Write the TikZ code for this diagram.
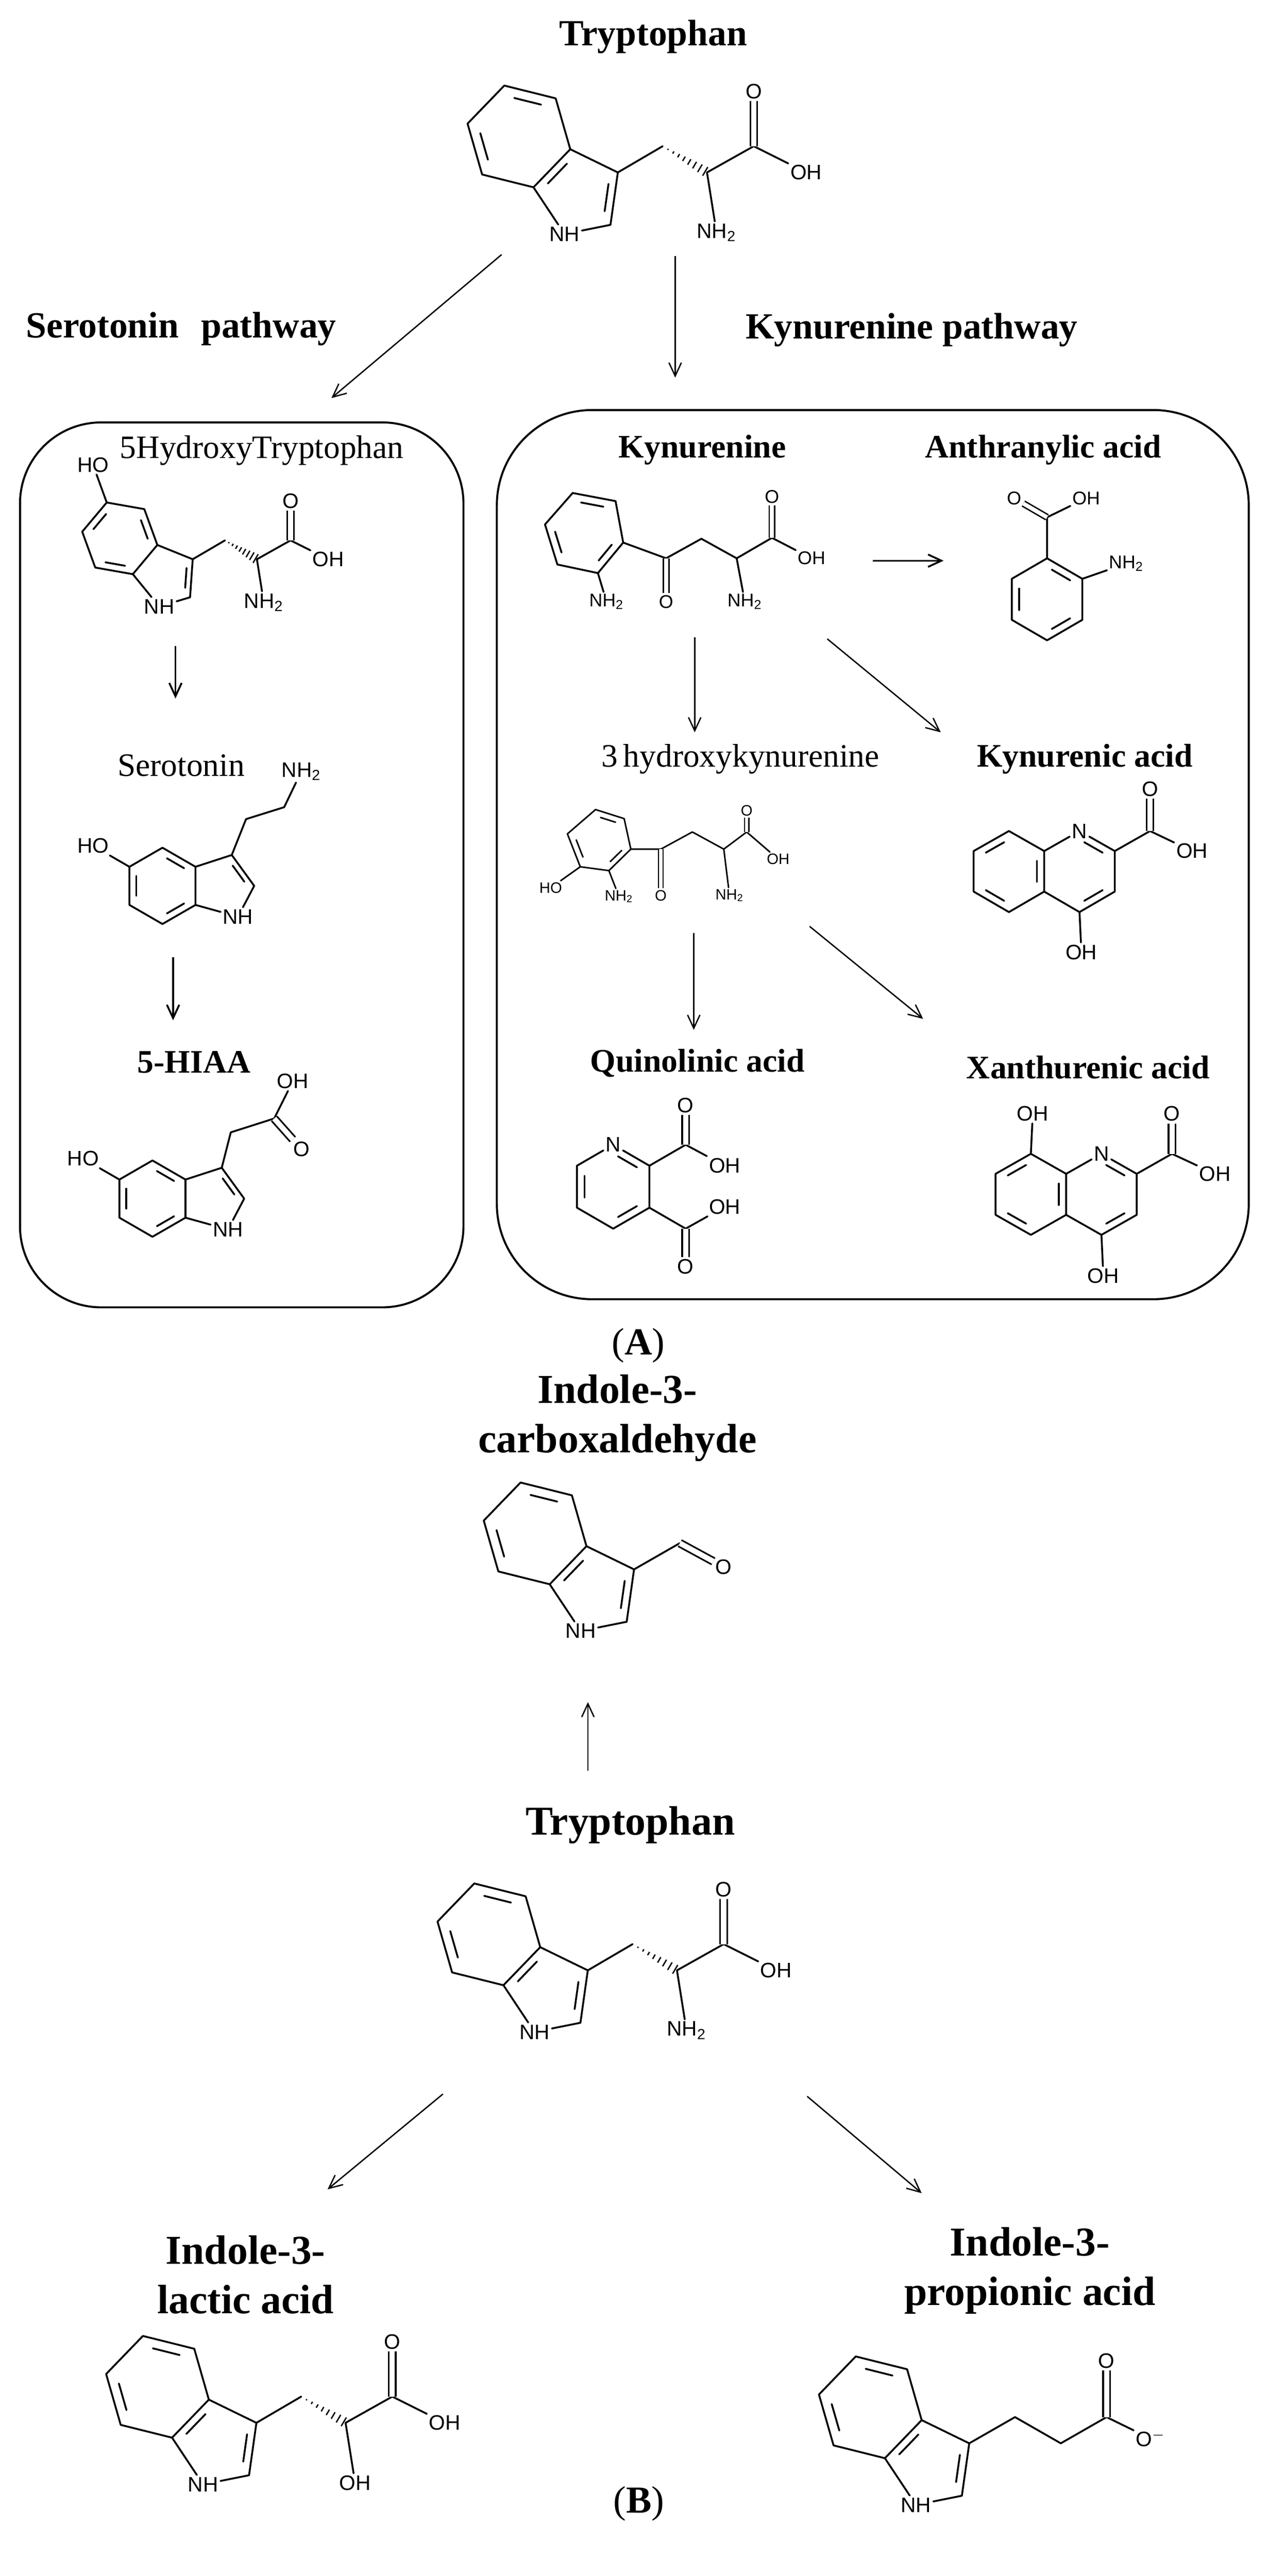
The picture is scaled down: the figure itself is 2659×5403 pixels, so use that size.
\documentclass[tikz,border=0pt]{standalone}
\usepackage{fontspec}
\setmainfont{Liberation Serif}
\setsansfont{Liberation Sans}
\usetikzlibrary{calc,arrows.meta}
\tikzset{
 bond/.style={line width=1.1pt,line cap=round,line join=round},
 sbond/.style={line width=0.9pt,line cap=round,line join=round},
 dbond/.style={line width=1pt,double,double distance=1.1mm},
 sdbond/.style={line width=0.85pt,double,double distance=0.85mm},
 atom/.style={font=\sffamily\fontsize{12.5}{13}\selectfont,inner sep=0.4mm},
 satom/.style={font=\sffamily\fontsize{11}{12}\selectfont,inner sep=0.35mm},
 tatom/.style={font=\sffamily\fontsize{9}{10}\selectfont,inner sep=0.3mm},
 ttl/.style={font=\bfseries\fontsize{22}{24}\selectfont},
 bxt/.style={font=\bfseries\fontsize{19.6}{22}\selectfont},
 rgt/.style={font=\fontsize{19.5}{22}\selectfont},
 bttl/.style={font=\bfseries\fontsize{24.5}{29.5}\selectfont,align=center},
 arr/.style={line width=0.8pt,-{Straight Barb[length=2.8mm,width=2.6mm]}},
 boxst/.style={line width=1.2pt},
}
\newcommand\dbl[3]{\path ($(#1)!0.17!(#2)$) coordinate (dpA) ($(#2)!0.17!(#1)$) coordinate (dpB);
 \draw[bond] ($(dpA)!0.21!(#3)$) -- ($(dpB)!0.21!(#3)$);}
\newcommand\sdbl[3]{\path ($(#1)!0.17!(#2)$) coordinate (dpA) ($(#2)!0.17!(#1)$) coordinate (dpB);
 \draw[sbond] ($(dpA)!0.21!(#3)$) -- ($(dpB)!0.21!(#3)$);}
\newcommand\hashb[2]{\foreach \t in {0.12,0.24,0.36,0.48,0.6,0.72,0.84,0.96}{%
 \pgfmathsetmacro\w{\t*1.1}%
 \path ($(#1)!\t!(#2)$) coordinate (hp);
 \draw[line width=0.8pt] ($(hp)!\w mm!90:(#2)$) -- ($(hp)!\w mm!-90:(#2)$);}}
\newcommand\Indole[5]{%
\path (#2) coordinate (#1a3);
\path (#1a3) ++({-(210+#3)}:#4) coordinate (#1cen);
\path (#1cen) ++({-(90+#3)}:#4) coordinate (#1c4);
\path (#1cen) ++({-(150+#3)}:#4) coordinate (#1c5);
\path (#1cen) ++({-(210+#3)}:#4) coordinate (#1c6);
\path (#1cen) ++({-(270+#3)}:#4) coordinate (#1c7);
\path (#1cen) ++({-(330+#3)}:#4) coordinate (#1a7);
\path (#1a3) ++({-(18+#3)}:#4) coordinate (#1c3);
\path (#1c3) ++({-(-54+#3)}:#4) coordinate (#1c2);
\path (#1c2) ++({-(-126+#3)}:#4) coordinate (#1n);
\path ($(#1c2)!0.5!(#1n)$) coordinate (#1m);
\path ($(#1a3)!0.553!(#1m)$) coordinate (#1pc);
\node[atom,xshift=1.3mm] (#1N) at (#1n) {NH};
\draw[bond] (#1a3)--(#1c4)--(#1c5)--(#1c6)--(#1c7)--(#1a7)--cycle;
\draw[bond] (#1a3)--(#1c3)--(#1c2)--(#1N);
\draw[bond] (#1N)--(#1a7);
\dbl{#1c3}{#1c2}{#1pc}
\ifnum#5=1 \dbl{#1c4}{#1c5}{#1cen}\dbl{#1c6}{#1c7}{#1cen}\dbl{#1a3}{#1a7}{#1pc}%
\else \dbl{#1a3}{#1c4}{#1cen}\dbl{#1c5}{#1c6}{#1cen}\dbl{#1c7}{#1a7}{#1cen}\fi}
\newcommand\TrpChain[4]{%
\begin{scope}[shift={(#2)},scale=#3]
 \coordinate (#1ch2) at (94,-55);
 \coordinate (#1ca) at (187,0);
 \coordinate (#1cc) at (285,-55);
 \node[atom] (#1O) at (285,-170) {O};
 \node[atom] (#1OH) at (395,0) {OH};
 \node[atom] (#1X) at (207,126) {#4};
\end{scope}
\draw[bond] (#2)--(#1ch2);
\hashb{#1ch2}{#1ca}
\draw[bond] (#1ca)--(#1cc)--(#1OH);
\draw[dbond] (#1cc)--(#1O);
\draw[bond] (#1ca)--(#1X);}
\begin{document}
\begin{tikzpicture}[x=0.1mm,y=-0.1mm]
\useasboundingbox (0,0) rectangle (2659,5403);
% ---------------- top tryptophan
\node[ttl] (tTitle) at (1370,77) {Tryptophan};
\Indole{tA}{1196,313}{-44}{111}{1}
\TrpChain{tA}{tAc3}{1}{NH\textsubscript{2}}
\coordinate (a1s) at (1052,534); \coordinate (a1e) at (695,835);
\coordinate (a2s) at (1416,537); \coordinate (a2e) at (1416,792);
\draw[arr] (a1s)--(a1e);
\draw[arr] (a2s)--(a2e);
\node[ttl] (serT) at (380,690) {Serotonin\hspace{0.6em}pathway};
\node[ttl] (kynT) at (1912,692) {Kynurenine pathway};
% ---------------- boxes
\draw[boxst,rounded corners=17mm] (42,886) rectangle (972,2742);
\draw[boxst,rounded corners=20mm] (1042,860) rectangle (2619,2725);
% ---------------- 5-HTP
\node[rgt] (htpT) at (549,945) {5HydroxyTryptophan};
\Indole{hT}{330,1143}{-40}{80}{2}
\path (hTc5) ++(-110:84) node[atom] (hTHO) {HO};
\draw[bond] (hTc5)--(hTHO);
\TrpChain{hT}{hTc3}{0.72}{NH\textsubscript{2}}
\coordinate (b1s) at (368,1355); \coordinate (b1e) at (368,1465);
\draw[arr,line width=1.1pt] (b1s)--(b1e);
% ---------------- serotonin
\node[rgt] (serN) at (380,1605) {Serotonin};
\Indole{sE}{410,1818}{0}{80}{2}
\path (sEc5) ++(-150:88) node[atom] (sEHO) {HO};
\draw[bond] (sEc5)--(sEHO);
\coordinate (sE1) at (516,1718); \coordinate (sE2) at (596,1693);
\node[atom] (sENH) at (632,1618) {NH\textsubscript{2}};
\draw[bond] (sEc3)--(sE1)--(sE2)--(sENH);
\coordinate (b2s) at (363,2008); \coordinate (b2e) at (363,2140);
\draw[arr,line width=1.1pt] (b2s)--(b2e);
% ---------------- 5-HIAA
\node[bxt] (hiaaT) at (407,2228) {5-HIAA};
\Indole{hI}{389,2474}{0}{80}{2}
\path (hIc5) ++(-150:88) node[atom] (hIHO) {HO};
\draw[bond] (hIc5)--(hIHO);
\coordinate (hI1) at (484,2375); \coordinate (hI2) at (575,2346);
\node[atom] (hIOH) at (614,2268) {OH};
\node[atom] (hIO) at (632,2410) {O};
\draw[bond] (hIc3)--(hI1)--(hI2)--(hIOH);
\draw[dbond] (hI2)--(hIO);
% ---------------- kynurenine
\node[bxt] (kynN) at (1473,944) {Kynurenine};
\coordinate (k1) at (1201,1034); \coordinate (k2) at (1291,1051);
\coordinate (k3) at (1307,1138); \coordinate (k4) at (1254,1202);
\coordinate (k5) at (1169,1184); \coordinate (k6) at (1143,1100);
\coordinate (kc) at (1227,1118);
\draw[bond] (k1)--(k2)--(k3)--(k4)--(k5)--(k6)--cycle;
\dbl{k1}{k2}{kc}\dbl{k3}{k4}{kc}\dbl{k5}{k6}{kc}
\node[satom] (kNa) at (1272,1262) {NH\textsubscript{2}};
\draw[bond] (k4)--(kNa);
\coordinate (kco) at (1397,1171); \coordinate (kch2) at (1471,1130);
\coordinate (kch) at (1545,1171); \coordinate (kcc) at (1619,1128);
\node[satom] (kO1) at (1397,1262) {O};
\node[satom] (kNb) at (1562,1262) {NH\textsubscript{2}};
\node[satom] (kO2) at (1619,1042) {O};
\node[satom] (kOH) at (1702,1171) {OH};
\draw[bond] (k3)--(kco)--(kch2)--(kch)--(kcc)--(kOH);
\draw[bond] (kch)--(kNb);
\draw[sdbond] (kco)--(kO1);
\draw[sdbond] (kcc)--(kO2);
% ---------------- anthranilic
\node[bxt] (antN) at (2188,944) {Anthranylic acid};
\coordinate (an1) at (2196,1171); \coordinate (an2) at (2270,1214);
\coordinate (an3) at (2270,1300); \coordinate (an4) at (2196,1343);
\coordinate (an5) at (2122,1300); \coordinate (an6) at (2122,1214);
\coordinate (anc) at (2196,1257);
\draw[bond] (an1)--(an2)--(an3)--(an4)--(an5)--(an6)--cycle;
\dbl{an1}{an2}{anc}\dbl{an3}{an4}{anc}\dbl{an5}{an6}{anc}
\coordinate (ancc) at (2196,1085);
\node[satom] (anO) at (2127,1045) {O};
\node[satom] (anOH) at (2278,1045) {OH};
\node[satom] (anN) at (2362,1182) {NH\textsubscript{2}};
\draw[bond] (an1)--(ancc)--(anOH);
\draw[sdbond] (ancc)--(anO);
\draw[bond] (an2)--(anN);
% arrows in box
\coordinate (c1s) at (1831,1176); \coordinate (c1e) at (1979,1176);
\coordinate (c2s) at (1457,1337); \coordinate (c2e) at (1457,1536);
\coordinate (c3s) at (1735,1340); \coordinate (c3e) at (1973,1536);
\coordinate (c4s) at (1455,1957); \coordinate (c4e) at (1455,2160);
\coordinate (c5s) at (1698,1943); \coordinate (c5e) at (1936,2137);
\draw[arr,line width=1.1pt] (c1s)--(c1e);
\draw[arr] (c2s)--(c2e);
\draw[arr] (c3s)--(c3e);
\draw[arr] (c4s)--(c4e);
\draw[arr] (c5s)--(c5e);
% ---------------- 3-hydroxykynurenine
\node[rgt] (hkN) at (1553,1592) {3\,hydroxykynurenine};
\coordinate (h1) at (1249,1698); \coordinate (h2) at (1309,1717);
\coordinate (h3) at (1323,1781); \coordinate (h4) at (1277,1826);
\coordinate (h5) at (1217,1818); \coordinate (h6) at (1190,1749);
\coordinate (hc) at (1261,1765);
\draw[sbond] (h1)--(h2)--(h3)--(h4)--(h5)--(h6)--cycle;
\sdbl{h1}{h2}{hc}\sdbl{h3}{h4}{hc}\sdbl{h5}{h6}{hc}
\node[tatom] (hHO) at (1155,1862) {HO};
\node[tatom] (hNa) at (1298,1880) {NH\textsubscript{2}};
\draw[sbond] (h5)--(hHO); \draw[sbond] (h4)--(hNa);
\coordinate (hco) at (1386,1781); \coordinate (hch2) at (1452,1745);
\coordinate (hch) at (1518,1781); \coordinate (hcc) at (1566,1745);
\node[tatom] (hO1) at (1386,1878) {O};
\node[tatom] (hNb) at (1530,1878) {NH\textsubscript{2}};
\node[tatom] (hO2) at (1566,1700) {O};
\node[tatom] (hOH) at (1632,1802) {OH};
\draw[sbond] (h3)--(hco)--(hch2)--(hch)--(hcc)--(hOH);
\draw[sbond] (hch)--(hNb);
\draw[line width=0.7pt,double,double distance=0.7mm] (hco)--(hO1);
\draw[line width=0.7pt,double,double distance=0.7mm] (hcc)--(hO2);
% ---------------- kynurenic acid
\node[bxt] (kaN) at (2275,1592) {Kynurenic acid};
\coordinate (q1) at (2264,1743); \coordinate (q2) at (2338,1785);
\coordinate (q3) at (2338,1870); \coordinate (q4) at (2264,1913);
\coordinate (q4a) at (2190,1870); \coordinate (q8a) at (2190,1785);
\coordinate (q5) at (2116,1913); \coordinate (q6) at (2042,1870);
\coordinate (q7) at (2042,1785); \coordinate (q8) at (2116,1743);
\coordinate (qpc) at (2264,1828); \coordinate (qbc) at (2116,1828);
\node[atom] (qN) at (q1) {N};
\draw[bond] (qN)--(q2)--(q3)--(q4)--(q4a)--(q8a)--(qN);
\draw[bond] (q8a)--(q8)--(q7)--(q6)--(q5)--(q4a);
\dbl{q1}{q2}{qpc}\dbl{q3}{q4}{qpc}\dbl{q4a}{q8a}{qbc}\dbl{q5}{q6}{qbc}\dbl{q7}{q8}{qbc}
\coordinate (qcc) at (2412,1743);
\node[atom] (qO) at (2412,1655) {O};
\node[atom] (qOH) at (2500,1785) {OH};
\node[atom] (qOH4) at (2268,1997) {OH};
\draw[bond] (q2)--(qcc)--(qOH); \draw[dbond] (qcc)--(qO); \draw[bond] (q4)--(qOH4);
% ---------------- quinolinic acid
\node[bxt] (qaN) at (1463,2230) {Quinolinic acid};
\coordinate (p1) at (1286,2401); \coordinate (p2) at (1362,2445);
\coordinate (p3) at (1362,2533); \coordinate (p4) at (1286,2577);
\coordinate (p5) at (1210,2533); \coordinate (p6) at (1210,2445);
\coordinate (pc) at (1286,2489);
\node[atom] (pN) at (p1) {N};
\draw[bond] (pN)--(p2)--(p3)--(p4)--(p5)--(p6)--(pN);
\dbl{p1}{p2}{pc}\dbl{p3}{p4}{pc}\dbl{p5}{p6}{pc}
\coordinate (pc1) at (1438,2401); \coordinate (pc2) at (1438,2577);
\node[atom] (pO1) at (1438,2318) {O};
\node[atom] (pOH1) at (1520,2445) {OH};
\node[atom] (pOH2) at (1520,2531) {OH};
\node[atom] (pO2) at (1438,2657) {O};
\draw[bond] (p2)--(pc1)--(pOH1); \draw[dbond] (pc1)--(pO1);
\draw[bond] (p3)--(pc2)--(pOH2); \draw[dbond] (pc2)--(pO2);
% ---------------- xanthurenic acid
\node[bxt] (xaN) at (2282,2239) {Xanthurenic acid};
\coordinate (x1) at (2310,2420); \coordinate (x2) at (2384,2462);
\coordinate (x3) at (2384,2548); \coordinate (x4) at (2310,2590);
\coordinate (x4a) at (2236,2548); \coordinate (x8a) at (2236,2462);
\coordinate (x5) at (2162,2590); \coordinate (x6) at (2088,2548);
\coordinate (x7) at (2088,2462); \coordinate (x8) at (2162,2420);
\coordinate (xpc) at (2310,2505); \coordinate (xbc) at (2162,2505);
\node[atom] (xN) at (x1) {N};
\draw[bond] (xN)--(x2)--(x3)--(x4)--(x4a)--(x8a)--(xN);
\draw[bond] (x8a)--(x8)--(x7)--(x6)--(x5)--(x4a);
\dbl{x1}{x2}{xpc}\dbl{x3}{x4}{xpc}\dbl{x4a}{x8a}{xbc}\dbl{x5}{x6}{xbc}\dbl{x7}{x8}{xbc}
\coordinate (xcc) at (2458,2420);
\node[atom] (xO) at (2458,2336) {O};
\node[atom] (xOH) at (2548,2462) {OH};
\node[atom] (xOH4) at (2314,2676) {OH};
\node[atom] (xOH8) at (2166,2336) {OH};
\draw[bond] (x2)--(xcc)--(xOH); \draw[dbond] (xcc)--(xO);
\draw[bond] (x4)--(xOH4); \draw[bond] (x8)--(xOH8);
% ---------------- labels A
\node[font=\fontsize{22.8}{24}\selectfont] (labA) at (1339,2822) {(\textbf{A})};
% ---------------- part B
\node[bttl] (icT) at (1295,2974) {Indole-3-\\carboxaldehyde};
\Indole{iC}{1230,3243}{-44}{111}{1}
\path (iCc3) ++(96,-55) coordinate (iCcc);
\path (iCcc) ++(92,50) node[atom] (iCO) {O};
\draw[bond] (iCc3)--(iCcc); \draw[dbond] (iCcc)--(iCO);
\coordinate (d1s) at (1233,3714); \coordinate (d1e) at (1233,3570);
\draw[arr] (d1s)--(d1e);
\node[bttl] (tBT) at (1322,3828) {Tryptophan};
\Indole{tB}{1133,4084}{-44}{111}{1}
\TrpChain{tB}{tBc3}{1}{NH\textsubscript{2}}
\coordinate (d2s) at (929,4392); \coordinate (d2e) at (687,4592);
\coordinate (d3s) at (1693,4397); \coordinate (d3e) at (1933,4600);
\draw[arr] (d2s)--(d2e);
\draw[arr] (d3s)--(d3e);
\node[bttl] (ilT) at (515,4771) {Indole-3-\\lactic acid};
\Indole{iL}{438,5033}{-44}{111}{1}
\TrpChain{iL}{iLc3}{1}{OH}
\node[bttl] (ipT) at (2160,4763) {Indole-3-\\propionic acid};
\Indole{iP}{1933,5076}{-44}{111}{1}
\path (iPc3) ++(96,-55) coordinate (iP1);
\path (iP1) ++(96,55) coordinate (iP2);
\path (iP2) ++(96,-55) coordinate (iP3);
\path (iP3) ++(0,-118) node[atom] (iPO) {O};
\path (iP3) ++(92,45) node[atom] (iPOm) {O\textsuperscript{$-$}};
\draw[bond] (iPc3)--(iP1)--(iP2)--(iP3)--(iPOm);
\draw[dbond] (iP3)--(iPO);
\node[font=\fontsize{22.8}{24}\selectfont] (labB) at (1340,5251) {(\textbf{B})};
\end{tikzpicture}
\end{document}
